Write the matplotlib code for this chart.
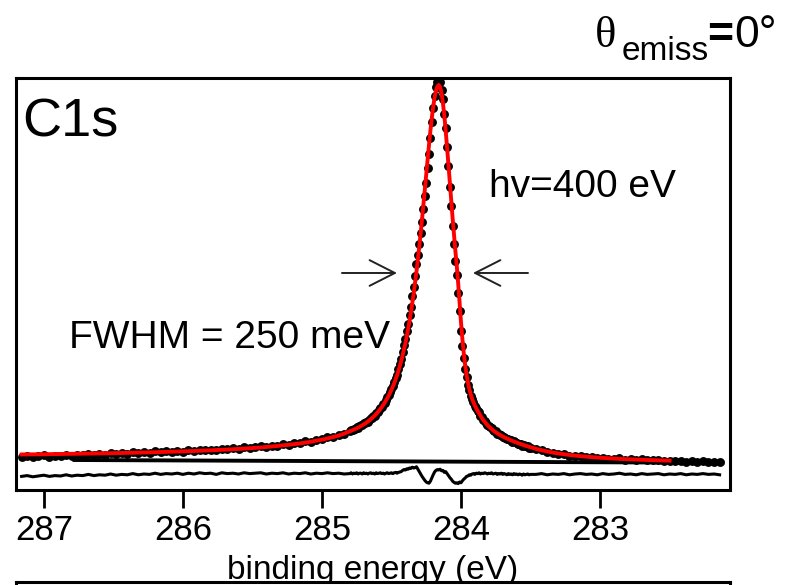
import numpy as np
import matplotlib.pyplot as plt

plt.rcParams['font.family'] = ['Liberation Sans', 'DejaVu Sans']

# binding energy grid (eV): 40 meV steps in the tails, 10 meV across the line
energy_low = np.arange(28716, 28480, -4) / 100
energy_peak = np.arange(28480, 28349, -1) / 100
energy_high = np.arange(28346, 28213, -4) / 100

# fitted C1s line shape (arb. units) on the same grid
fit_low = [8.88, 8.89, 8.91, 8.93, 8.94, 8.96, 8.98, 9.00, 9.02, 9.04,
           9.06, 9.08, 9.10, 9.12, 9.14, 9.17, 9.20, 9.22, 9.25, 9.28,
           9.31, 9.34, 9.38, 9.41, 9.45, 9.49, 9.53, 9.57, 9.61, 9.65,
           9.70, 9.75, 9.80, 9.86, 9.92, 9.98, 10.04, 10.11, 10.18, 10.26,
           10.35, 10.44, 10.53, 10.63, 10.75, 10.88, 11.01, 11.15, 11.30, 11.46,
           11.63, 11.84, 12.07, 12.32, 12.59, 12.89, 13.23, 13.61, 14.10]
fit_peak = [14.69, 14.81, 14.95, 15.09, 15.25, 15.41, 15.58, 15.76, 15.96, 16.16,
            16.38, 16.60, 16.84, 17.10, 17.37, 17.65, 17.97, 18.28, 18.62, 19.00,
            19.38, 19.80, 20.24, 20.71, 21.21, 21.75, 22.32, 22.94, 23.59, 24.30,
            25.05, 25.86, 26.72, 27.65, 28.65, 29.76, 30.95, 32.24, 33.61, 35.10,
            36.69, 38.41, 40.26, 42.25, 44.39, 46.69, 49.16, 51.80, 54.63, 57.63,
            60.81, 64.17, 67.68, 71.32, 75.06, 78.84, 82.60, 86.27, 89.76, 92.95,
            95.76, 98.08, 99.82, 100.89, 101.25,
            100.74, 99.23, 96.81, 93.64, 89.88, 85.70, 81.28, 76.75, 72.25, 67.86,
            63.64, 59.65, 55.90, 51.60, 46.80, 42.00, 37.80, 34.20, 31.20, 28.80,
            26.80, 25.20, 23.90, 22.80, 21.90, 21.10, 20.40, 19.75, 19.15, 18.60,
            18.05, 17.50, 17.05, 16.63, 16.24, 15.88, 15.55, 15.24, 14.95, 14.68,
            14.43, 14.20, 13.98, 13.77, 13.57, 13.38, 13.20, 13.03, 12.87, 12.71,
            12.56, 12.41, 12.27, 12.13, 11.99, 11.86, 11.73, 11.60, 11.48, 11.36,
            11.24, 11.12, 11.01, 10.90, 10.79, 10.69]
fit_high = [10.29, 9.94, 9.64, 9.37, 9.14, 8.94, 8.76, 8.60, 8.46, 8.33,
            8.22, 8.11, 8.02, 7.93, 7.86, 7.78, 7.72, 7.66, 7.60, 7.55,
            7.50, 7.45, 7.41, 7.37, 7.34, 7.30, 7.27, 7.24, 7.21, 7.19,
            7.16, 7.14, 7.11, 7.09]

# residual (data - fit)
resid_low = [-0.6, -0.4, -0.7, -0.5, -0.3, -0.6, -0.4, -0.5, -0.2, -0.5,
             -0.3, -0.4, -0.1, -0.4, -0.2, -0.3, 0.0, -0.3, -0.1, -0.2,
             0.1, -0.2, 0.0, -0.1, 0.2, -0.1, 0.1, 0.0, 0.2, -0.1,
             0.2, 0.0, 0.3, 0.1, 0.2, -0.1, 0.3, 0.1, 0.2, 0.0,
             0.3, 0.1, 0.2, 0.3, 0.0, 0.2, 0.1, 0.3, 0.0, 0.2,
             0.1, 0.3, 0.0, 0.2, 0.1, 0.3, 0.1, 0.2, 0.0]
resid_peak = [0.1, 0.3, 0.0, 0.2, 0.1, 0.3, 0.0, 0.2, 0.2, 0.0,
              0.3, 0.1, 0.2, 0.0, 0.2, 0.3, 0.1, 0.2, 0.0, 0.3,
              0.1, 0.2, 0.3, 0.1, 0.2, 0.0, 0.2, 0.3, 0.1, 0.2,
              0.3, 0.1, 0.3, 0.4, 0.2, 0.4, 0.5, 0.6, 0.9, 1.1,
              1.0, 1.3, 1.2, 1.5, 1.4, 1.7, 1.5, 1.6, 1.8, 1.2,
              0.6, 0.0, -0.6, -1.1, -1.6, -2.0, -2.2, -2.3, -1.8, -1.0,
              -0.2, 0.5, 0.9, 1.1, 1.0, 1.2, 0.8, 0.9, 0.4, 0.6,
              0.1, -0.4, -0.9, -1.3, -1.8, -2.1, -2.3, -2.2, -2.4, -2.0,
              -2.2, -1.7, -1.3, -1.0, -0.6, -0.5, -0.2, -0.3, 0.0, 0.1,
              -0.1, 0.2, 0.1, 0.3, 0.0, 0.2, 0.1, 0.3, 0.2, 0.0,
              0.2, 0.1, 0.3, 0.0, 0.1, 0.2, -0.1, 0.1, 0.0, 0.2,
              -0.1, 0.1, 0.0, -0.2, 0.1, -0.1, 0.0, -0.2, 0.1, -0.1,
              0.0, -0.2, 0.0, -0.1, -0.3, 0.0, -0.2, -0.1, 0.0, -0.2,
              -0.1]
resid_high = [-0.1, 0.1, -0.2, 0.0, -0.1, 0.1, -0.2, 0.0, 0.1, -0.1,
              0.0, -0.2, 0.1, -0.1, 0.0, 0.2, -0.1, 0.0, -0.2, 0.1,
              -0.1, 0.0, 0.1, -0.2, 0.0, -0.1, 0.1, -0.2, 0.0, -0.1,
              0.1, -0.1, 0.0, -0.2]

background_energy = [286.78, 282.12]
background_level = [7.5, 6.8]
resid_offset = 4.0
fit_end = 282.5
half_max = 54.25

ticks = [287, 286, 285, 284, 283]
tick_labels = ['287', '286', '285', '284', '283']

energy = np.concatenate([energy_low, energy_peak, energy_high])
fit = np.concatenate([fit_low, fit_peak, fit_high])
resid = np.concatenate([resid_low, resid_peak, resid_high])
counts = fit + resid

fig = plt.figure(figsize=(7.86, 5.85), dpi=100)
ax = fig.add_axes([0.0204, 0.1624, 0.9084, 0.7043])

ax.plot(background_energy, background_level, color='k', lw=2.8, zorder=1)
ax.plot(energy, resid + resid_offset, color='k', lw=2.2, zorder=1)
ax.plot(energy, counts, 'o', color='k', ms=6.4, mew=0, zorder=2)
sel = energy >= fit_end
ax.plot(energy[sel], fit[sel], color='red', lw=2.8, zorder=3)

ax.set_xlim(287.2, 282.065)
ax.set_ylim(0, 103)
ax.set_yticks([])
ax.set_xticks(ticks)
ax.set_xticklabels(tick_labels)
ax.tick_params(axis='x', direction='out', length=13, width=2, pad=4, labelsize=25)
for s in ax.spines.values():
    s.set_linewidth(2.2)
ax.set_xlabel('binding energy (eV)', fontsize=24)
ax.xaxis.set_label_coords(0.5, -0.216)
ax.xaxis.label.set_verticalalignment('baseline')

ax.text(0.0084, 0.857, 'C1s', transform=ax.transAxes, fontsize=39, va='baseline')
ax.text(0.0742, 0.3447, 'FWHM = 250 meV', transform=ax.transAxes, fontsize=28, va='baseline')
ax.text(0.6625, 0.711, 'hv=400 eV', transform=ax.transAxes, fontsize=28, va='baseline')

# arrows marking the line width
arrow = dict(arrowstyle='->,head_length=0.65,head_width=0.33', lw=1.4, color='#222222',
             mutation_scale=28, shrinkA=0, shrinkB=0)
ax.annotate('', xy=(284.46, half_max), xytext=(284.856, half_max), arrowprops=arrow)
ax.annotate('', xy=(283.914, half_max), xytext=(283.518, half_max), arrowprops=arrow)

# emission angle
fig.text(0.757, 0.9197, 'θ', family=['Liberation Serif', 'DejaVu Serif'], fontsize=32, va='baseline')
fig.text(0.7913, 0.8974, 'emiss', fontsize=24, va='baseline')
fig.text(0.8995, 0.9197, '=', fontsize=32, fontweight='bold', va='baseline')
fig.text(0.9345, 0.9197, '0°', fontsize=32, va='baseline')

# frame of the next panel below
ax2 = fig.add_axes([0.0204, -0.3, 0.9084, 0.3051], zorder=2)
ax2.set_xticks([])
ax2.set_yticks([])
for s in ax2.spines.values():
    s.set_linewidth(2.2)

fig.savefig('out.png', dpi=100)
